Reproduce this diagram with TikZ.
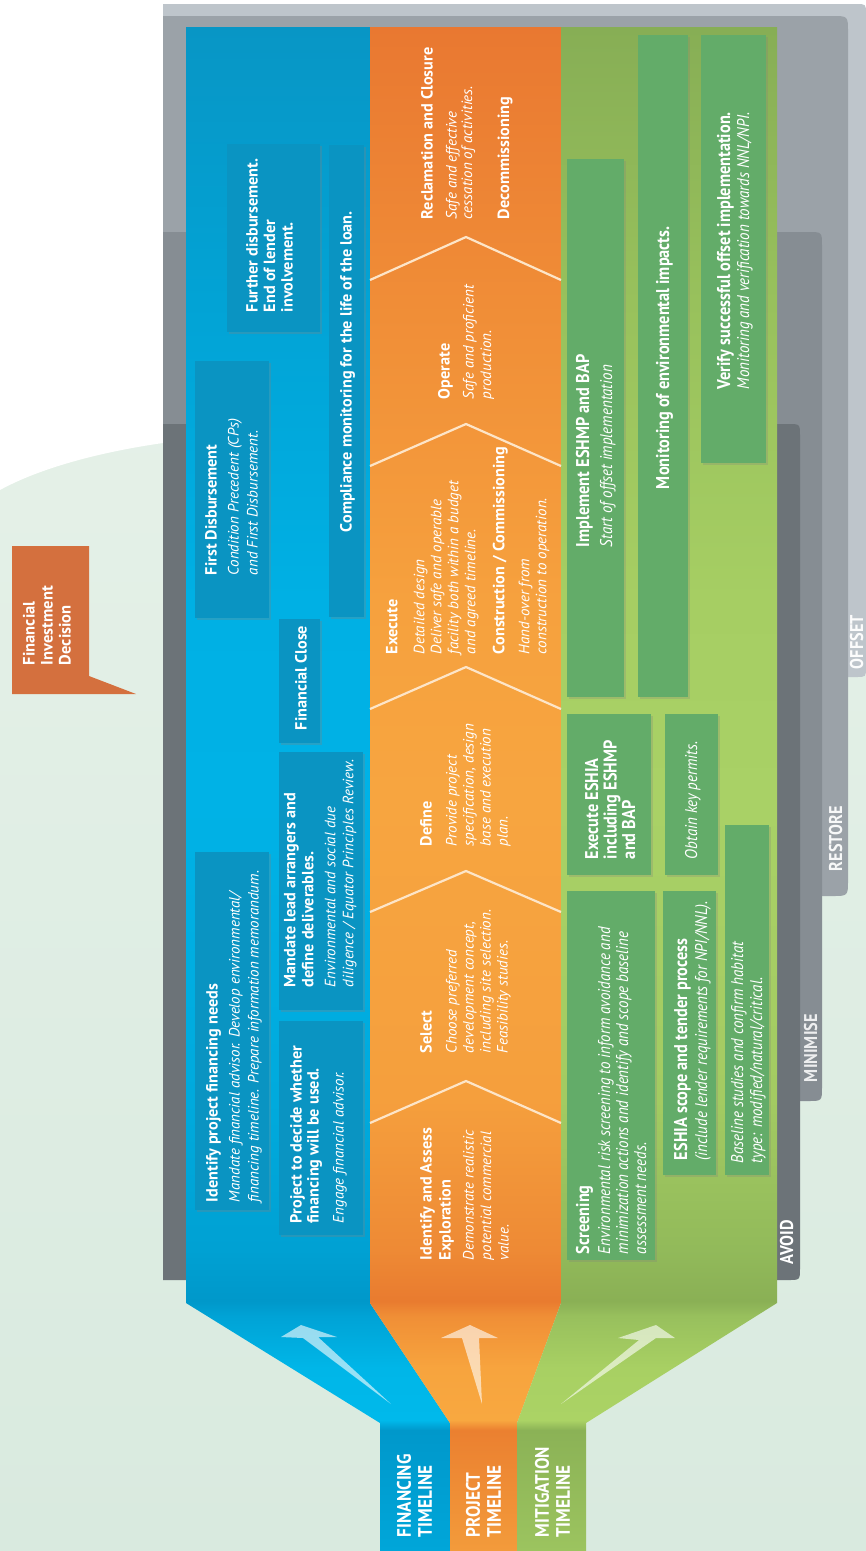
\documentclass[tikz,border=0pt]{standalone}
\usepackage{fontspec}
\setmainfont{PT Sans}
\setsansfont{PT Sans}
\newfontfamily\condfont[FakeStretch=0.88]{PT Sans}
\usetikzlibrary{shadows}
\newcommand\fsz[2]{\fontsize{#1}{#2}\selectfont}
\newcommand\tbf[1]{{\fontsize{16.2}{16}\selectfont\bfseries #1}}
\newcommand\tit[1]{{\fontsize{15}{16}\selectfont\itshape #1}}
\newcommand\gbf[1]{{\fontsize{18.5}{16}\selectfont\bfseries #1}}
\newcommand\git[1]{{\fontsize{17}{16}\selectfont\itshape #1}}
\definecolor{bgtop}{HTML}{E9F3EB}
\definecolor{bgbot}{HTML}{D9EADF}
\definecolor{offsetc}{HTML}{BEC5CB}
\definecolor{restorec}{HTML}{9BA2A8}
\definecolor{minic}{HTML}{868D93}
\definecolor{avoidc}{HTML}{6C7378}
\definecolor{bluebox}{HTML}{0A94C2}
\definecolor{greenbox}{HTML}{63AC69}
\definecolor{flagc}{HTML}{D4703E}
\definecolor{chevc}{HTML}{FDE5C8}
% blue band stops
\definecolor{ba}{HTML}{00A6D9}\definecolor{bb}{HTML}{0098CB}\definecolor{bc}{HTML}{00B9EB}
\definecolor{bd}{HTML}{00B6E8}\definecolor{be}{HTML}{00A3D6}\definecolor{bf}{HTML}{0098CA}
\definecolor{bg}{HTML}{00A1D3}\definecolor{bh}{HTML}{00AADD}\definecolor{bi}{HTML}{00B2E6}
\definecolor{bj}{HTML}{00B0E4}\definecolor{bk}{HTML}{02A3D5}\definecolor{bl}{HTML}{0896C5}
% orange band stops
\definecolor{oa}{HTML}{F39B3B}\definecolor{ob}{HTML}{EB8030}\definecolor{oc}{HTML}{F8A840}
\definecolor{od}{HTML}{F7A43E}\definecolor{oe}{HTML}{F08F36}\definecolor{of}{HTML}{E97B2F}
\definecolor{og}{HTML}{EE8A35}\definecolor{oh}{HTML}{F59F3D}\definecolor{oi}{HTML}{F7A540}
\definecolor{oj}{HTML}{F6A13E}\definecolor{ok}{HTML}{F08D37}\definecolor{ol}{HTML}{E97831}
% green band stops
\definecolor{ga}{HTML}{9CC45F}\definecolor{gb}{HTML}{8BB256}\definecolor{gc}{HTML}{ABD365}
\definecolor{gd}{HTML}{A8D063}\definecolor{ge}{HTML}{98C05D}\definecolor{gf}{HTML}{8AB055}
\definecolor{gg}{HTML}{92BA5A}\definecolor{gh}{HTML}{A3CB62}\definecolor{gi}{HTML}{A9D166}
\definecolor{gj}{HTML}{A6CE63}\definecolor{gk}{HTML}{98C15C}\definecolor{gl}{HTML}{87AE55}
\pgfdeclareverticalshading{blueband}{100bp}{color(0bp)=(ba); color(25bp)=(ba); color(28.97bp)=(bb); color(29.3bp)=(bc); color(31bp)=(bd); color(32.7bp)=(be); color(33.2bp)=(bf); color(34.9bp)=(bg); color(39.8bp)=(bh); color(49.6bp)=(bi); color(56.2bp)=(bj); color(66bp)=(bk); color(75bp)=(bl); color(100bp)=(bl)}
\pgfdeclareverticalshading{orangeband}{100bp}{color(0bp)=(oa); color(25bp)=(oa); color(28.97bp)=(ob); color(29.3bp)=(oc); color(31bp)=(od); color(32.7bp)=(oe); color(33.2bp)=(of); color(34.9bp)=(og); color(39.8bp)=(oh); color(49.6bp)=(oi); color(56.2bp)=(oj); color(66bp)=(ok); color(75bp)=(ol); color(100bp)=(ol)}
\pgfdeclareverticalshading{greenband}{100bp}{color(0bp)=(ga); color(25bp)=(ga); color(28.97bp)=(gb); color(29.3bp)=(gc); color(31bp)=(gd); color(32.7bp)=(ge); color(33.2bp)=(gf); color(34.9bp)=(gg); color(39.8bp)=(gh); color(49.6bp)=(gi); color(56.2bp)=(gj); color(66bp)=(gk); color(75bp)=(gl); color(100bp)=(gl)}
\tikzset{
  txt/.style={rotate=90, anchor=north west, inner sep=0pt, outer sep=0pt, align=left, text=white},
  bbox/.style={fill=bluebox, drop shadow={shadow xshift=1.5pt, shadow yshift=-1.5pt, opacity=0.3}},
  gbox/.style={fill=greenbox, drop shadow={shadow xshift=1.5pt, shadow yshift=-1.5pt, opacity=0.25}},
  chev/.style={draw=chevc, line width=2.2pt},
  arr/.style={fill=white, fill opacity=0.6},
  graylbl/.style={txt, font=\condfont\bfseries\fsz{18.5}{20}}
}
\begin{document}
\begin{tikzpicture}[x=1pt,y=-1pt]
\useasboundingbox (0,0) rectangle (866,1551);
% background
\shade[top color=bgtop, bottom color=bgbot] (0,0) rectangle (866,1551);
\fill[white] (0,0) -- (866,0) -- (866,400) -- (163,443) .. controls (100,452) and (40,468) .. (0,490) -- cycle;
% mitigation hierarchy panels
\fill[offsetc] (163,4) -- (856,4) .. controls (866,4) .. (866,14) -- (866,667) .. controls (866,677) .. (856,677) -- (163,677) -- cycle;
\fill[restorec] (163,16) -- (832,16) .. controls (848,16) .. (848,32) -- (848,880) .. controls (848,896) .. (832,896) -- (163,896) -- cycle;
\fill[minic] (163,232) -- (808,232) .. controls (822,232) .. (822,246) -- (822,1087) .. controls (822,1101) .. (808,1101) -- (163,1101) -- cycle;
\fill[avoidc] (163,424) -- (788,424) .. controls (800,424) .. (800,436) -- (800,1268) .. controls (800,1280) .. (788,1280) -- (163,1280) -- cycle;
\node[graylbl] (lavoid) at (780,1264) {AVOID};
\node[graylbl, text=white!88!avoidc] (lmin) at (804,1082) {MINIMISE};
\node[graylbl, text=white!92!restorec] (lres) at (829,871) {RESTORE};
\node[graylbl, text=white!95!offsetc] (loff) at (850,669) {OFFSET};
% bands
\shade[shading=blueband] (186,27) -- (370,27) -- (370,1303) -- (450,1423) -- (450,1551) -- (380,1551) -- (380,1423) -- (186,1303) -- cycle;
\shade[shading=orangeband] (370,27) -- (561,27) -- (561,1303) -- (517,1423) -- (517,1551) -- (450,1551) -- (450,1423) -- (370,1303) -- cycle;
\shade[shading=greenband] (561,27) -- (777,27) -- (777,1303) -- (586,1423) -- (586,1551) -- (517,1551) -- (517,1423) -- (561,1303) -- cycle;
% chevrons
\draw[chev] (370,1123) -- (466,1081) -- (561,1123);
\draw[chev] (370,912) -- (466,871) -- (561,912);
\draw[chev] (370,709) -- (466,667) -- (561,709);
\draw[chev] (370,466) -- (466,424) -- (561,466);
\draw[chev] (370,280) -- (466,237) -- (561,280);
% funnel arrows
\fill[arr] (301,1325) -- (337,1337) -- (318,1337) -- (391,1404) -- (303,1338) -- (281,1337) -- cycle;
\fill[arr] (470,1325) -- (498,1338) -- (479,1338) -- (482,1404) -- (462,1338) -- (441,1338) -- cycle;
\fill[arr] (656,1325) -- (675,1338) -- (656,1338) -- (561,1404) -- (639,1340) -- (618,1338) -- cycle;
% bottom labels
\node[txt, font=\condfont\bfseries\fsz{19.5}{21}] (finlbl) at (397,1537) {FINANCING\\TIMELINE};
\node[txt, font=\condfont\bfseries\fsz{19.5}{21}] (prolbl) at (466,1537) {PROJECT\\TIMELINE};
\node[txt, font=\condfont\bfseries\fsz{19.5}{21}] (mitlbl) at (535,1537) {MITIGATION\\TIMELINE};
% flag
\fill[flagc] (12,546) -- (89,546) -- (89,676) -- (136,694) -- (12,694) -- cycle;
\node[txt, font=\bfseries\fsz{16.5}{18}] (fid) at (23,665) {Financial\\Investment\\Decision};
% blue boxes
\fill[bbox] (195,852) rectangle (269,1210);
\fill[bbox] (279,1021) rectangle (363,1235);
\fill[bbox] (279,752) rectangle (363,1010);
\fill[bbox] (279,619) rectangle (320,743);
\fill[bbox] (195,361) rectangle (269,618);
\fill[bbox] (329,145) rectangle (364,617);
\fill[bbox] (227,144) rectangle (320,332);
\node[txt, font=\fsz{14.5}{19}] (b1) at (206,1202) {\tbf{Identify project financing needs}\\[3pt]\tit{Mandate financial advisor. Develop environmental/}\\\tit{financing timeline. Prepare information memorandum.}};
\node[txt, font=\fsz{14.5}{17}] (b2) at (290,1223) {\tbf{Project to decide whether}\\\tbf{financing will be used.}\\[8pt]\tit{Engage financial advisor.}};
\node[txt, font=\fsz{14.5}{18}] (b3) at (284,987) {\tbf{Mandate lead arrangers and}\\\tbf{define deliverables.}\\[4pt]\tit{Environmental and social due}\\\tit{diligence / Equator Principles Review.}};
\node[txt, font=\fsz{14.5}{19}] (b4) at (295,730) {\tbf{Financial Close}};
\node[txt, font=\fsz{14.5}{19}] (b5) at (205,575) {\tbf{First Disbursement}\\[3pt]\tit{Condition Precedent (CPs)}\\\tit{and First Disbursement.}};
\node[txt, font=\fsz{14.5}{19}] (b6) at (340,532) {\tbf{Compliance monitoring for the life of the loan.}};
\node[txt, font=\fsz{14.5}{17.5}] (b7) at (246,312) {\tbf{Further disbursement.}\\\tbf{End of lender}\\\tbf{involvement.}};
% orange texts
\node[txt, font=\fsz{14.5}{17.5}] (o1) at (420,1260) {\tbf{Identify and Assess}\\[1.5pt]\tbf{Exploration}\\[5.5pt]\tit{Demonstrate realistic}\\\tit{potential commercial}\\\tit{value.}};
\node[txt, font=\fsz{14.5}{17}] (o2) at (420,1053) {\tbf{Select}\\[8pt]\tit{Choose preferred}\\\tit{development concept,}\\\tit{including site selection.}\\\tit{Feasibility studies.}};
\node[txt, font=\fsz{14.5}{17}] (o3) at (420,846) {\tbf{Define}\\[8pt]\tit{Provide project}\\\tit{specification, design}\\\tit{base and execution}\\\tit{plan.}};
\node[txt, font=\fsz{14.5}{17}] (o4) at (386,654) {\tbf{Execute}\\[10pt]\tit{Detailed design}\\\tit{Deliver safe and operable}\\\tit{facility both within a budget}\\\tit{and agreed timeline.}\\[12pt]\tbf{Construction / Commissioning}\\[8pt]\tit{Hand-over from}\\\tit{construction to operation.}};
\node[txt, font=\fsz{14.5}{17.5}] (o5) at (438,399) {\tbf{Operate}\\[6.5pt]\tit{Safe and proficient}\\\tit{production.}};
\node[txt, font=\fsz{14.5}{15.5}] (o6) at (421,219) {\tbf{Reclamation and Closure}\\[8.5pt]\tit{Safe and effective}\\\tit{cessation of activities.}\\[21.5pt]\tbf{Decommissioning}};
% green boxes
\fill[gbox] (567,891) rectangle (655,1260);
\fill[gbox] (663,891) rectangle (716,1175);
\fill[gbox] (725,825) rectangle (769,1175);
\fill[gbox] (567,714) rectangle (651,875);
\fill[gbox] (665,714) rectangle (718,875);
\fill[gbox] (567,159) rectangle (624,697);
\fill[gbox] (638,35) rectangle (688,697);
\fill[gbox] (701,35) rectangle (766,463);
\node[txt, font=\condfont\fsz{16}{18}] (g1) at (576,1254) {\gbf{Screening}\\[3pt]\git{Environmental risk screening to inform avoidance and}\\\git{minimization actions and identify and scope baseline}\\\git{assessment needs.}};
\node[txt, font=\condfont\fsz{16}{20}] (g2) at (674,1160) {\gbf{ESHIA scope and tender process}\\\git{(include lender requirements for NPI/NNL).}};
\node[txt, font=\condfont\fsz{16}{19}] (g3) at (731,1163) {\git{Baseline studies and confirm habitat}\\\git{type: modified/natural/critical.}};
\node[txt, font=\condfont\fsz{16}{18.5}] (g4) at (585,859) {\gbf{Execute ESHIA}\\\gbf{including ESHMP}\\\gbf{and BAP}};
\node[txt, font=\condfont\fsz{16}{18}] (g5) at (685,859) {\git{Obtain key permits.}};
\node[txt, font=\condfont\fsz{16}{23}] (g6) at (576,547) {\gbf{Implement ESHMP and BAP}\\\git{Start of offset implementation}};
\node[txt, font=\condfont\fsz{16}{18}] (g7) at (656,489) {\gbf{Monitoring of environmental impacts.}};
\node[txt, font=\condfont\fsz{16}{19}] (g8) at (717,389) {\gbf{Verify successful offset implementation.}\\\git{Monitoring and verification towards NNL/NPI.}};
\end{tikzpicture}
\end{document}
